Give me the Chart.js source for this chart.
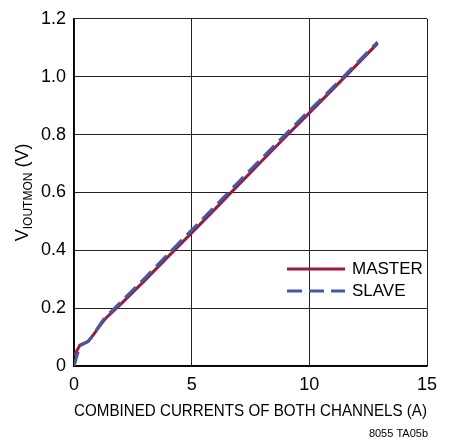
<!DOCTYPE html>
<html>
<head>
<meta charset="utf-8">
<script src="https://cdn.jsdelivr.net/npm/chart.js@4"></script>
<style>
  html, body { margin: 0; padding: 0; background: #fff; }
  #wrap { position: relative; width: 452px; height: 440px; }
</style>
</head>
<body>
<div id="wrap"><canvas id="chart" width="452" height="440"></canvas></div>
<script>
// combined current (A)
const currents = [0, 0.25, 0.6, 0.75, 1.2, 1.35, 2, 3, 4, 5, 6, 7, 8, 9, 10, 11, 12, 12.9];
// V_IOUTMON (V)
const master = [0.035, 0.072, 0.085, 0.10, 0.15, 0.165, 0.215, 0.295, 0.378, 0.46, 0.543, 0.627, 0.71, 0.793, 0.875, 0.957, 1.04, 1.115];
const slave  = [0.0, 0.07, 0.085, 0.10, 0.155, 0.17, 0.222, 0.303, 0.387, 0.47, 0.553, 0.637, 0.72, 0.802, 0.883, 0.963, 1.045, 1.12];
const xTicks = [0, 5, 10, 15];
const yTicks = [0, 0.2, 0.4, 0.6, 0.8, 1.0, 1.2];

const FONT = '"Liberation Sans Narrow", "Liberation Sans", Arial, sans-serif';
const MASTER_COLOR = '#9b1b3c';
const SLAVE_COLOR = '#4359a8';

// y-axis title with subscript, legend inside the plot, part number note
const extras = {
    id: 'extras',
    afterDraw(chart) {
        const ctx = chart.ctx;
        const area = chart.chartArea;
        ctx.save();
        ctx.fillStyle = '#000';

        // y title
        ctx.save();
        ctx.translate(23, (area.top + area.bottom) / 2);
        ctx.rotate(-Math.PI / 2);
        ctx.textBaseline = 'middle';
        const big = '18px ' + FONT, small = '12px ' + FONT;
        ctx.font = big;
        const wV = ctx.measureText('V').width;
        const wT = ctx.measureText(' (V)').width;
        ctx.font = small;
        const wS = ctx.measureText('IOUTMON').width;
        let x = -(wV + wS + wT) / 2;
        ctx.font = big;
        ctx.fillText('V', x, 0);
        x += wV;
        ctx.font = small;
        ctx.fillText('IOUTMON', x, 6);
        x += wS;
        ctx.font = big;
        ctx.fillText(' (V)', x, 0);
        ctx.restore();

        // legend
        ctx.font = '17px ' + FONT;
        ctx.textBaseline = 'middle';
        chart.data.datasets.forEach((ds, i) => {
            const y = 269 + i * 22;
            ctx.beginPath();
            ctx.strokeStyle = ds.borderColor;
            ctx.lineWidth = 3;
            ctx.setLineDash(ds.borderDash || []);
            ctx.moveTo(287, y);
            ctx.lineTo(345, y);
            ctx.stroke();
            ctx.setLineDash([]);
            ctx.fillStyle = '#000';
            ctx.fillText(ds.label, 352, y);
        });

        // note
        ctx.font = '11px ' + FONT;
        ctx.textAlign = 'right';
        ctx.textBaseline = 'alphabetic';
        ctx.fillText('8055 TA05b', 428, 437);
        ctx.restore();
    }
};

const ctx = document.getElementById('chart').getContext('2d');
new Chart(ctx, {
    type: 'line',
    data: {
        labels: currents,
        datasets: [
            {
                label: 'MASTER',
                data: currents.map((c, i) => ({ x: c, y: master[i] })),
                borderColor: MASTER_COLOR,
                borderWidth: 3,
                pointRadius: 0,
                fill: false,
                tension: 0,
                order: 1
            },
            {
                label: 'SLAVE',
                data: currents.map((c, i) => ({ x: c, y: slave[i] })),
                borderColor: SLAVE_COLOR,
                borderWidth: 3,
                borderDash: [15, 7],
                pointRadius: 0,
                fill: false,
                tension: 0,
                order: 0
            }
        ]
    },
    options: {
        responsive: false,
        animation: false,
        layout: { padding: { left: 0, right: 25, top: 15, bottom: 14 } },
        plugins: { legend: { display: false }, tooltip: { enabled: false } },
        scales: {
            x: {
                type: 'linear',
                min: 0,
                max: 15,
                afterBuildTicks: s => { s.ticks = xTicks.map(v => ({ value: v })); },
                afterFit: s => { s.height = 60; },
                grid: { color: '#222', lineWidth: 1, drawTicks: false },
                border: { color: '#000', width: 1.5 },
                ticks: {
                    color: '#000',
                    padding: 8,
                    font: { family: FONT, size: 18 }
                },
                title: {
                    display: true,
                    text: 'COMBINED CURRENTS OF BOTH CHANNELS (A)',
                    color: '#000',
                    font: { family: FONT, size: 17 },
                    padding: { top: 2 }
                }
            },
            y: {
                min: 0,
                max: 1.2,
                afterBuildTicks: s => { s.ticks = yTicks.map(v => ({ value: v })); },
                afterFit: s => { s.width = 74; },
                grid: { color: '#222', lineWidth: 1, drawTicks: false },
                border: { color: '#000', width: 1.5 },
                ticks: {
                    color: '#000',
                    padding: 8,
                    font: { family: FONT, size: 18 },
                    callback: v => v === 0 ? '0' : v.toFixed(1)
                }
            }
        }
    },
    plugins: [extras]
});
</script>
</body>
</html>
